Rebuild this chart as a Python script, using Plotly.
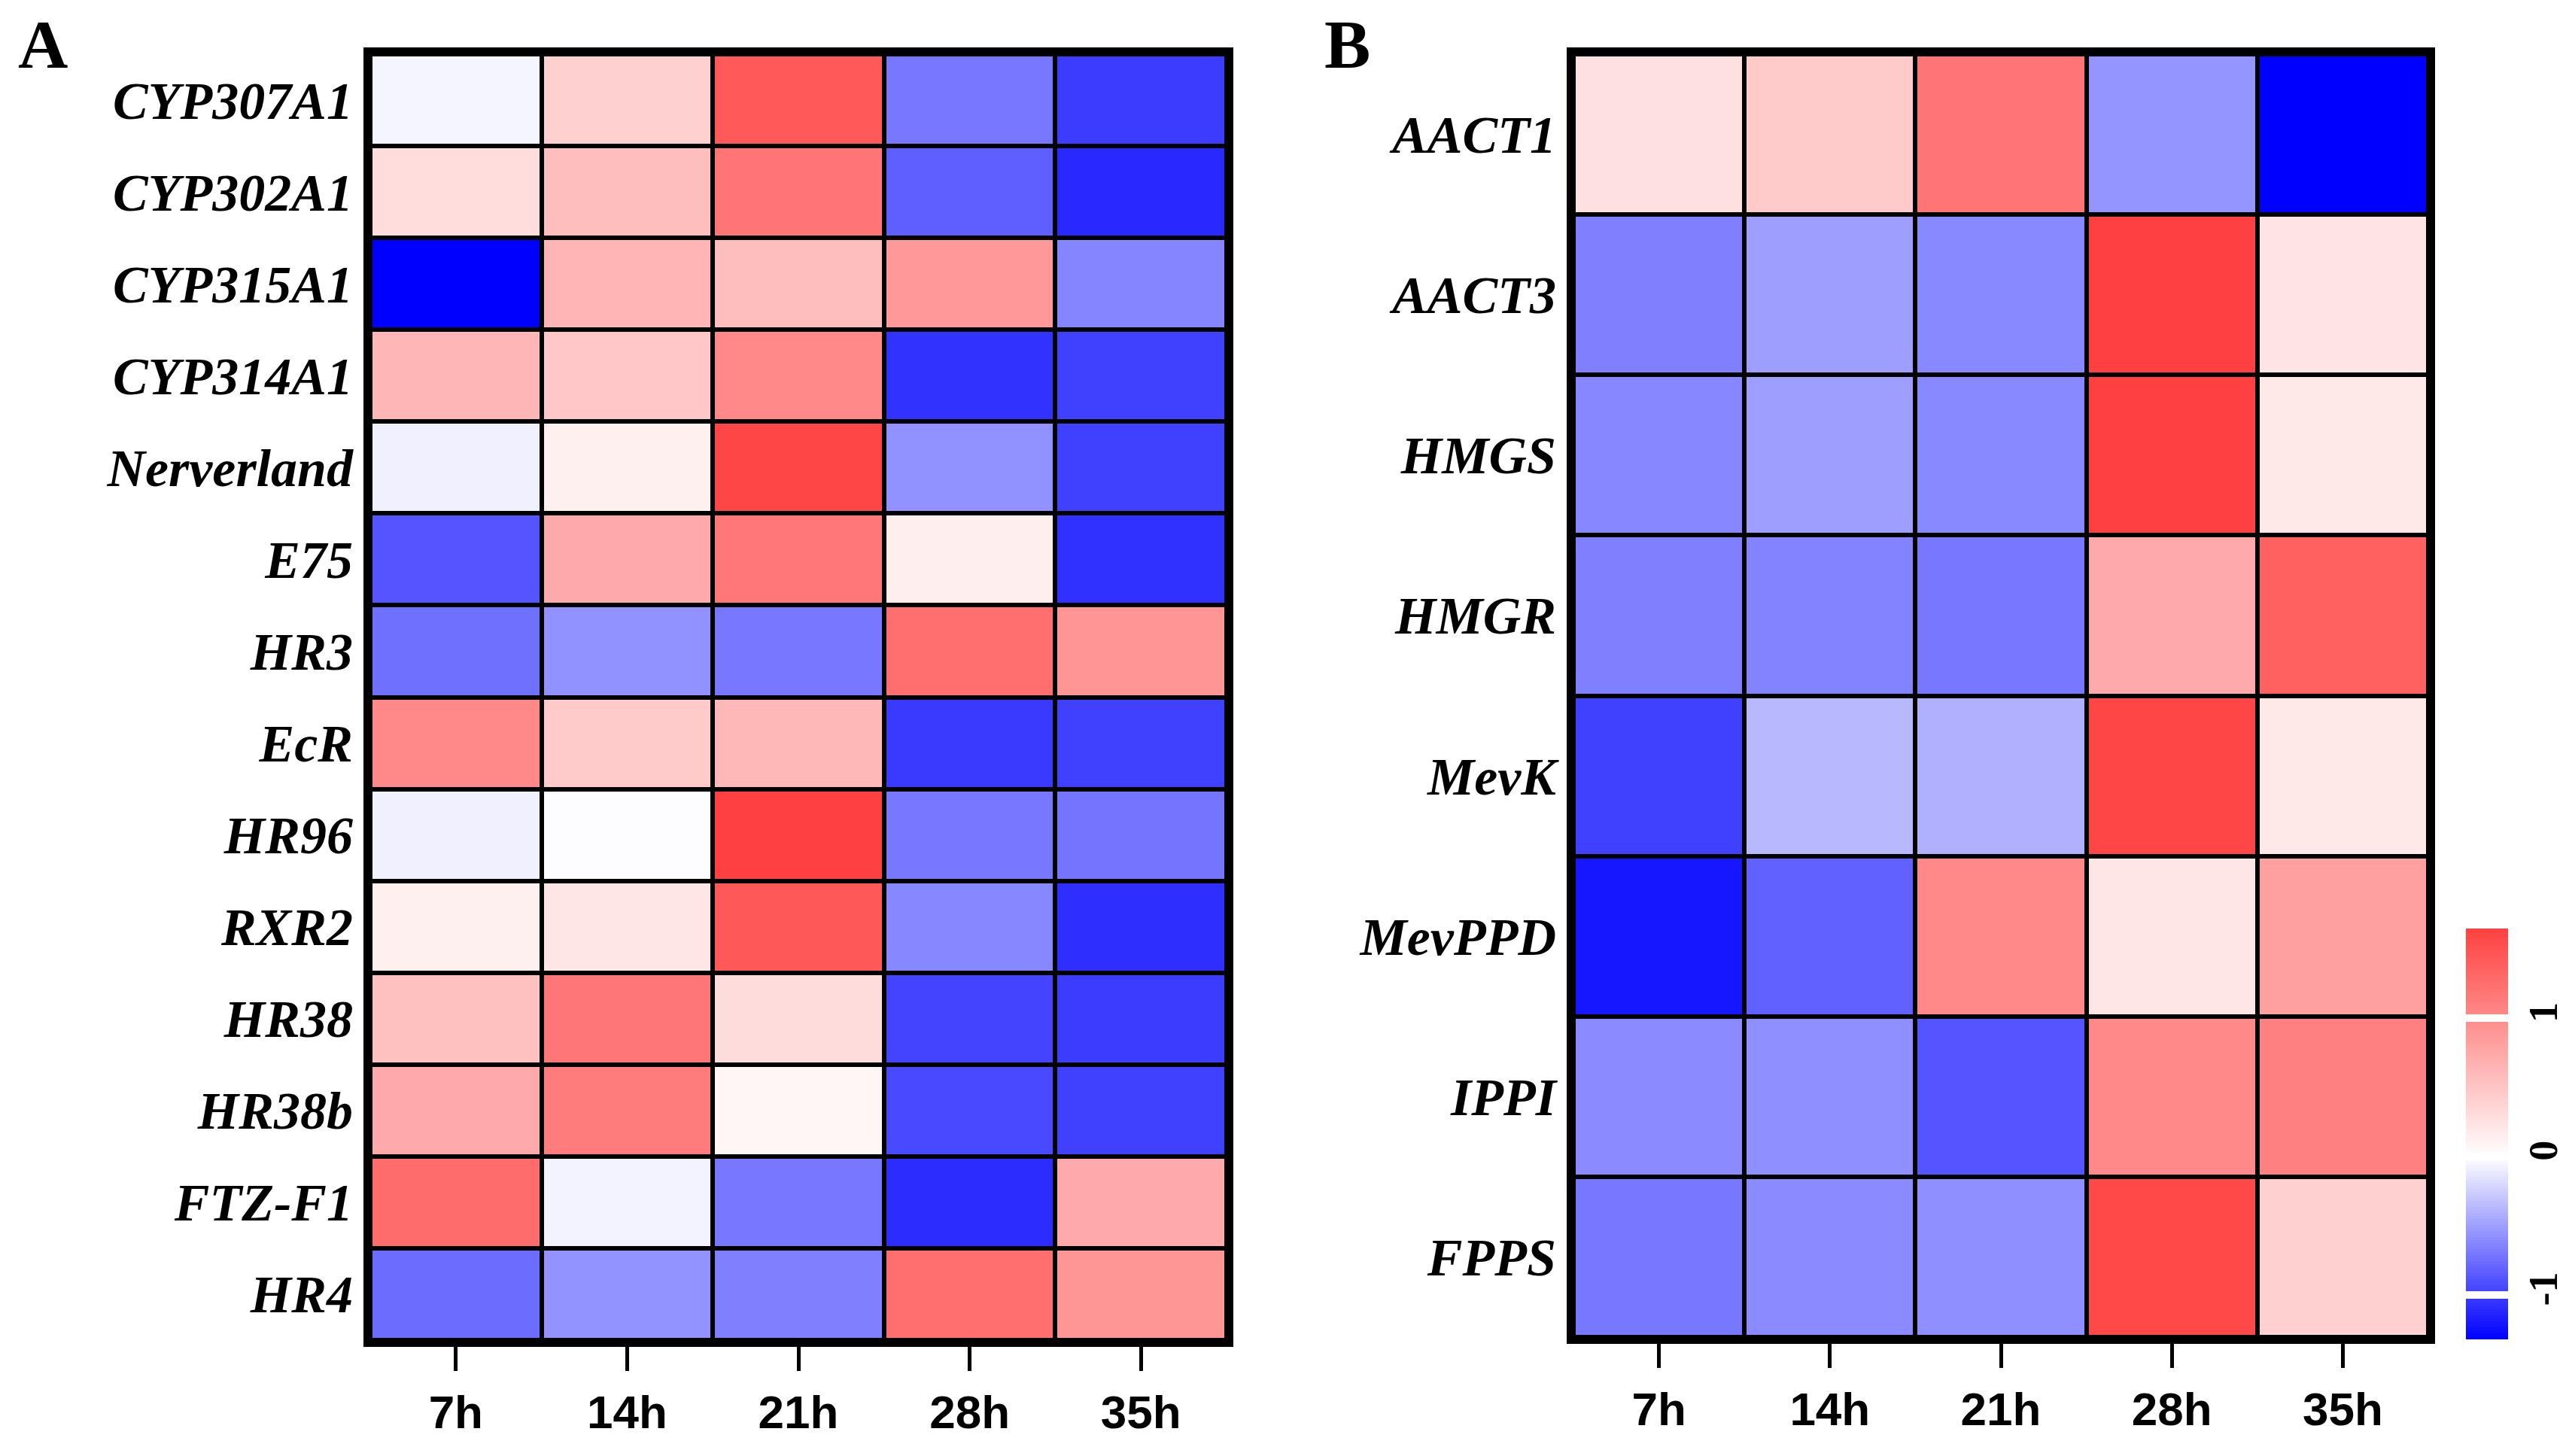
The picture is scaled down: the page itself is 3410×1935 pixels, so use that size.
import plotly.graph_objects as go

times = ["7h", "14h", "21h", "28h", "35h"]

genes_a = ["CYP307A1", "CYP302A1", "CYP315A1", "CYP314A1", "Nerverland", "E75",
           "HR3", "EcR", "HR96", "RXR2", "HR38", "HR38b", "FTZ-F1", "HR4"]
values_a = [
    [-0.05, 0.41, 1.43, -0.70, -1.01],
    [0.29, 0.56, 1.19, -0.83, -1.11],
    [-1.32, 0.64, 0.56, 0.88, -0.63],
    [0.63, 0.48, 1.03, -1.06, -0.99],
    [-0.08, 0.13, 1.60, -0.57, -0.99],
    [-0.88, 0.73, 1.17, 0.15, -1.07],
    [-0.74, -0.57, -0.70, 1.24, 0.92],
    [1.03, 0.46, 0.61, -1.02, -0.99],
    [-0.08, -0.01, 1.65, -0.70, -0.72],
    [0.13, 0.22, 1.44, -0.62, -1.08],
    [0.54, 1.18, 0.30, -0.97, -1.01],
    [0.73, 1.13, 0.08, -0.94, -0.99],
    [1.27, -0.06, -0.70, -1.09, 0.73],
    [-0.76, -0.56, -0.66, 1.24, 0.91],
]

genes_b = ["AACT1", "AACT3", "HMGS", "HMGR", "MevK", "MevPPD", "IPPI", "FPPS"]
values_b = [
    [0.27, 0.46, 1.19, -0.55, -1.32],
    [-0.66, -0.50, -0.61, 1.65, 0.23],
    [-0.62, -0.50, -0.61, 1.65, 0.20],
    [-0.66, -0.64, -0.70, 0.73, 1.37],
    [-0.99, -0.37, -0.41, 1.60, 0.20],
    [-1.20, -0.82, 1.03, 0.22, 0.82],
    [-0.60, -0.58, -0.88, 1.03, 1.10],
    [-0.70, -0.60, -0.58, 1.58, 0.41],
]

cbar_ticks = [-1, 0, 1]
ZMIN, ZMAX = -1.32, 1.65
mid = (0 - ZMIN) / (ZMAX - ZMIN)
cscale = [[0, "rgb(0,0,255)"], [mid, "rgb(255,255,255)"], [1, "rgb(255,64,64)"]]

W, H = 3410, 1935
OFF = 8  # page body margin compensation


def px(v):
    return (v - OFF) / W


def py(v):
    return 1 - (v - OFF) / H


LW = 9

fig = go.Figure()
fig.add_trace(go.Heatmap(
    z=values_a, x=times, y=genes_a, xaxis="x", yaxis="y",
    colorscale=cscale, zmin=ZMIN, zmax=ZMAX, xgap=6, ygap=6, showscale=False,
))
fig.add_trace(go.Heatmap(
    z=values_b, x=times, y=genes_b, xaxis="x2", yaxis="y2",
    colorscale=cscale, zmin=ZMIN, zmax=ZMAX, xgap=6, ygap=6,
    colorbar=dict(
        x=px(3277), xanchor="left", y=py((1234 + 1780) / 2), yanchor="middle",
        len=(1780 - 1234) / H, lenmode="fraction", thickness=56,
        xpad=0, ypad=0,
        outlinewidth=0, tickvals=cbar_ticks, ticktext=[str(t) for t in cbar_ticks],
        ticks="inside", ticklen=56, tickwidth=10, tickcolor="white",
        tickangle=-90, ticklabeloverflow="allow",
        tickfont=dict(family="Liberation Serif", size=54, color="black", weight="bold"),
    ),
))

xfont = dict(family="Liberation Sans Narrow, Arial Narrow, Liberation Sans, sans-serif",
             size=62, color="black", weight="bold")
yfont = dict(family="Liberation Serif, Times New Roman, serif", size=70, color="black",
             weight="bold", style="italic")

common_x = dict(showline=True, linecolor="black", linewidth=LW, mirror=True,
                ticks="outside", ticklen=32, tickwidth=5, tickcolor="black",
                tickfont=xfont, showgrid=False, zeroline=False, automargin=False,
                ticklabelstandoff=2)
common_y = dict(showline=True, linecolor="black", linewidth=LW, mirror=True,
                ticks="", tickfont=yfont, showgrid=False, zeroline=False,
                automargin=False, autorange="reversed", ticklabelstandoff=0)

fig.update_layout(
    width=W, height=H,
    margin=dict(l=0, r=0, t=0, b=0, autoexpand=False),
    paper_bgcolor="white", plot_bgcolor="black",
    xaxis=dict(domain=[px(483 + LW), px(1639 - LW)], anchor="y", **common_x),
    yaxis=dict(domain=[py(1790 - LW), py(63 + LW)], anchor="x", **common_y),
    xaxis2=dict(domain=[px(2082 + LW), px(3236 - LW)], anchor="y2", **common_x),
    yaxis2=dict(domain=[py(1786 - LW), py(63 + LW)], anchor="x2", **common_y),
    annotations=[
        dict(text="A", x=px(57), y=py(59), xref="paper", yref="paper",
             showarrow=False, xanchor="center", yanchor="middle",
             font=dict(family="Liberation Serif", size=92, color="black", weight="bold")),
        dict(text="B", x=px(1790), y=py(59), xref="paper", yref="paper",
             showarrow=False, xanchor="center", yanchor="middle",
             font=dict(family="Liberation Serif", size=92, color="black", weight="bold")),
    ],
)

fig.write_html("out.html")
